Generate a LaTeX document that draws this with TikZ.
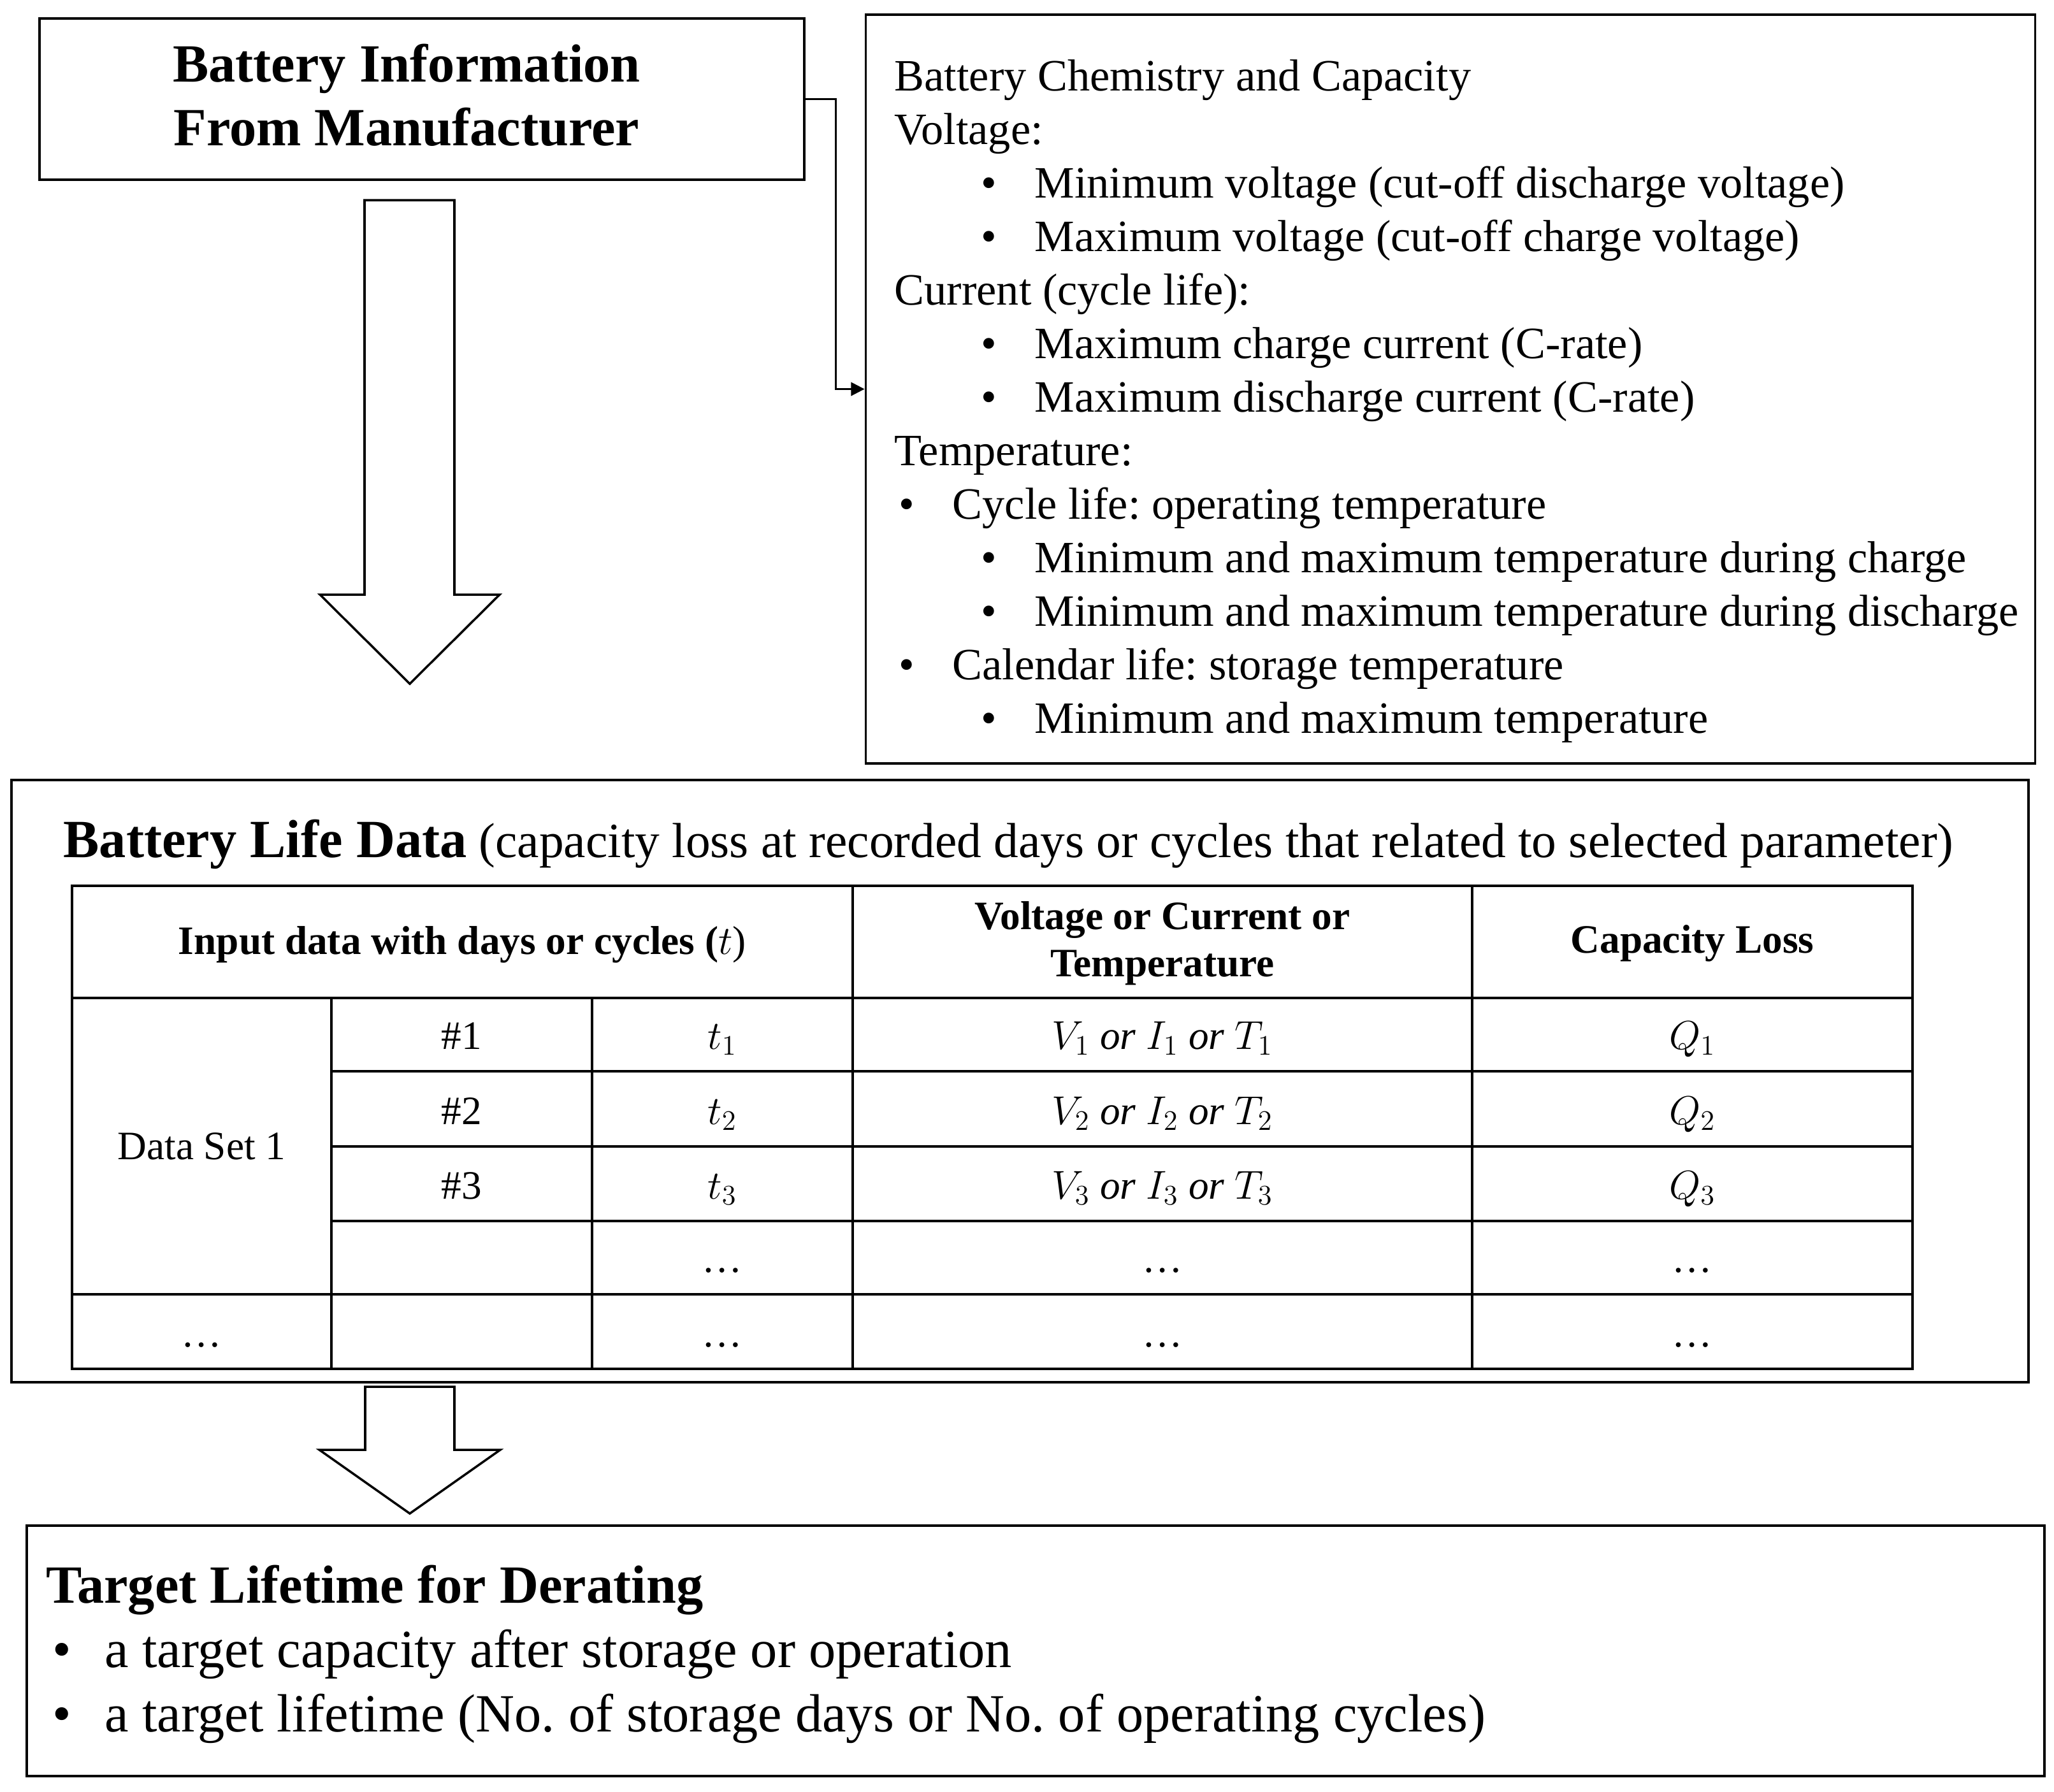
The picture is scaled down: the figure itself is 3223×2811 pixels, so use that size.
\RequirePackage{fix-cm}
\documentclass[tikz,border=0pt]{standalone}
\usepackage{fontspec}
\setmainfont{Liberation Serif}
\usetikzlibrary{arrows.meta}
\frenchspacing
\tikzset{
  box/.style={draw, line width=1.1pt, inner sep=0pt},
  grid/.style={line width=1pt},
  blockarrow/.style={draw, fill=white, line width=1pt, line join=miter},
  conn/.style={line width=0.8pt, -{Triangle[length=6pt,width=6pt]}},
  txt/.style={inner sep=0pt, anchor=base west},
  ctr/.style={inner sep=0pt, anchor=base},
  big/.style={font=\fontsize{24pt}{28.8pt}\selectfont},
  mid/.style={font=\fontsize{20pt}{24pt}\selectfont},
  small/.style={font=\fontsize{18pt}{21.6pt}\selectfont},
}
\begin{document}
\frenchspacing
\begin{tikzpicture}[x=0.01cm,y=-0.01cm]
\useasboundingbox (0,0) rectangle (3223,2811);

% ---------- Box 1 ----------
\node[box, minimum width=12cm, minimum height=2.53cm] (b1) at (662,155.5) {};
\node[ctr, big, font=\fontsize{24pt}{28.8pt}\selectfont\bfseries] (b1t1) at (638,128) {Battery Information};
\node[ctr, big, font=\fontsize{24pt}{28.8pt}\selectfont\bfseries] (b1t2) at (638,228) {From Manufacturer};

% ---------- Box 2 ----------
\node[box, minimum width=18.34cm, minimum height=11.75cm] (b2) at (2276,610.5) {};
\draw[conn] (b1.east) -- ++(47,0) coordinate (elbow) |- (b2.west);

\node[txt, mid] (l1) at (1403,142) {Battery Chemistry and Capacity};
\node[txt, mid] (l2) at (1403,226) {Voltage:};
\node[txt, mid] (l3b) at (1539,310) {\textbullet};
\node[txt, mid] (l3) at (1623,310) {Minimum voltage (cut-off discharge voltage)};
\node[txt, mid] (l4b) at (1539,394) {\textbullet};
\node[txt, mid] (l4) at (1623,394) {Maximum voltage (cut-off charge voltage)};
\node[txt, mid] (l5) at (1403,478) {Current (cycle life):};
\node[txt, mid] (l6b) at (1539,562) {\textbullet};
\node[txt, mid] (l6) at (1623,562) {Maximum charge current (C-rate)};
\node[txt, mid] (l7b) at (1539,646) {\textbullet};
\node[txt, mid] (l7) at (1623,646) {Maximum discharge current (C-rate)};
\node[txt, mid] (l8) at (1403,730) {Temperature:};
\node[txt, mid] (l9b) at (1410,814) {\textbullet};
\node[txt, mid] (l9) at (1494,814) {Cycle life: operating temperature};
\node[txt, mid] (l10b) at (1539,898) {\textbullet};
\node[txt, mid] (l10) at (1623,898) {Minimum and maximum temperature during charge};
\node[txt, mid] (l11b) at (1539,982) {\textbullet};
\node[txt, mid] (l11) at (1623,982) {Minimum and maximum temperature during discharge};
\node[txt, mid] (l12b) at (1410,1066) {\textbullet};
\node[txt, mid] (l12) at (1494,1066) {Calendar life: storage temperature};
\node[txt, mid] (l13b) at (1539,1150) {\textbullet};
\node[txt, mid] (l13) at (1623,1150) {Minimum and maximum temperature};

% ---------- Big arrow 1 ----------
\draw[blockarrow] (572,314) -- (713,314) -- (713,933) -- (784,933) -- (643,1073) -- (502,933) -- (572,933) -- cycle;

% ---------- Box 3 ----------
\node[box, minimum width=31.63cm, minimum height=9.45cm] (b3) at (1600.5,1696.5) {};
\node[txt, big] (b3t) at (99,1345) {\textbf{Battery Life Data}\fontsize{22pt}{26.4pt}\selectfont{} (capacity loss at recorded days or cycles that related to selected parameter)};

% table grid
\draw[grid] (113,1390) rectangle (3001,2148);
\draw[grid] (113,1566) -- (3001,1566);
\draw[grid] (520,1681) -- (3001,1681);
\draw[grid] (520,1799) -- (3001,1799);
\draw[grid] (520,1916) -- (3001,1916);
\draw[grid] (113,2031) -- (3001,2031);
\draw[grid] (520,1566) -- (520,2148);
\draw[grid] (929,1566) -- (929,2148);
\draw[grid] (1338,1390) -- (1338,2148);
\draw[grid] (2310,1390) -- (2310,2148);

% header
\node[ctr, small, font=\fontsize{18pt}{21.6pt}\selectfont\bfseries] (h1) at (725.5,1497) {Input data with days or cycles (\mdseries$t$)};
\node[ctr, small, font=\fontsize{18pt}{21.6pt}\selectfont\bfseries] (h2a) at (1824,1458) {Voltage or Current or};
\node[ctr, small, font=\fontsize{18pt}{21.6pt}\selectfont\bfseries] (h2b) at (1824,1532) {Temperature};
\node[ctr, small, font=\fontsize{18pt}{21.6pt}\selectfont\bfseries] (h3) at (2655.5,1495) {Capacity Loss};

% body
\node[ctr, small] (ds1) at (316.5,1819) {Data Set 1};
\node[ctr, small] (r1a) at (724.5,1646) {\#1};
\node[ctr, small] (r1b) at (1133.5,1646) {$t_1$};
\node[ctr, small] (r1c) at (1824,1646) {$V_1$ \textit{or} $I_1$ \textit{or} $T_1$};
\node[ctr, small] (r1d) at (2655.5,1646) {$Q_1$};
\node[ctr, small] (r2a) at (724.5,1764) {\#2};
\node[ctr, small] (r2b) at (1133.5,1764) {$t_2$};
\node[ctr, small] (r2c) at (1824,1764) {$V_2$ \textit{or} $I_2$ \textit{or} $T_2$};
\node[ctr, small] (r2d) at (2655.5,1764) {$Q_2$};
\node[ctr, small] (r3a) at (724.5,1881) {\#3};
\node[ctr, small] (r3b) at (1133.5,1881) {$t_3$};
\node[ctr, small] (r3c) at (1824,1881) {$V_3$ \textit{or} $I_3$ \textit{or} $T_3$};
\node[ctr, small] (r3d) at (2655.5,1881) {$Q_3$};
\node[ctr, small] (r4b) at (1133.5,1996) {\dots};
\node[ctr, small] (r4c) at (1824,1996) {\dots};
\node[ctr, small] (r4d) at (2655.5,1996) {\dots};
\node[ctr, small] (r5a) at (316.5,2113) {\dots};
\node[ctr, small] (r5b) at (1133.5,2113) {\dots};
\node[ctr, small] (r5c) at (1824,2113) {\dots};
\node[ctr, small] (r5d) at (2655.5,2113) {\dots};

% ---------- Big arrow 2 ----------
\draw[blockarrow] (573,2176) -- (713,2176) -- (713,2275) -- (785,2275) -- (643,2375) -- (501,2275) -- (573,2275) -- cycle;

% ---------- Box 4 ----------
\node[box, minimum width=31.64cm, minimum height=3.93cm] (b4) at (1625,2590.5) {};
\node[txt, big, font=\fontsize{24pt}{28.8pt}\selectfont\bfseries] (b4t) at (72,2515) {Target Lifetime for Derating};
\node[txt, big] (b4l1b) at (82,2616) {\textbullet};
\node[txt, big] (b4l1) at (164,2616) {a target capacity after storage or operation};
\node[txt, big] (b4l2b) at (82,2717) {\textbullet};
\node[txt, big] (b4l2) at (164,2717) {a target lifetime (No. of storage days or No. of operating cycles)};
\end{tikzpicture}
\end{document}
